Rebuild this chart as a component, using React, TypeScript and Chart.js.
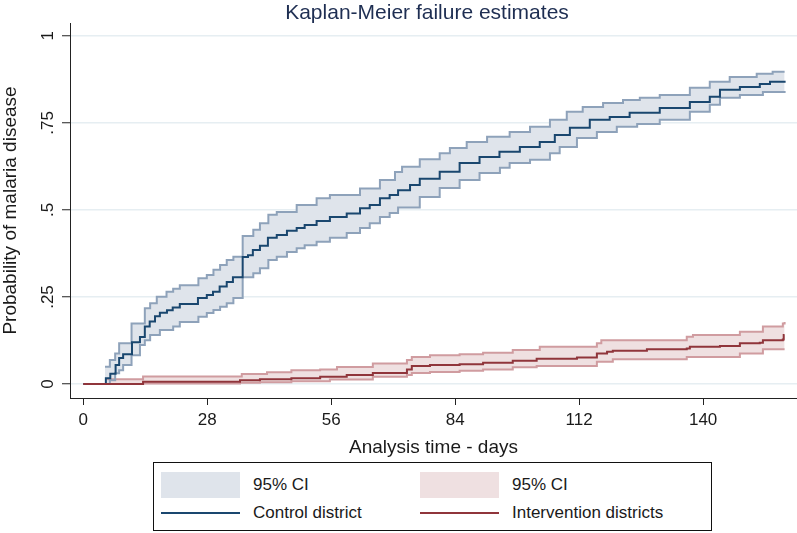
import React, { useEffect, useRef } from "react";
import { Chart, registerables } from "chart.js";

Chart.register(...registerables);

const chartTitle = "Kaplan-Meier failure estimates";
const xTitle = "Analysis time - days";
const yTitle = "Probability of malaria disease";

const xTicks = [0, 28, 56, 84, 112, 140];
const yTicks = [0, 0.25, 0.5, 0.75, 1];
const yTickLabels = ["0", ".25", ".5", ".75", "1"];

// Control district: Kaplan-Meier failure estimate
const controlDays = [0, 5.1, 6.1, 7.3, 8.1, 9.0, 11.0, 12.8, 13.9, 15.0, 16.2, 17.3, 18.9, 20.2, 21.8, 25.9, 27.9, 29.3, 30.8, 32.4, 33.8, 36.0, 37.2, 38.3, 39.9, 41.7, 43.7, 46.0, 48.2, 50.0, 52.7, 55.7, 59.5, 62.5, 64.7, 67.0, 69.2, 71.1, 73.8, 76.0, 80.5, 85.0, 89.5, 94.0, 98.6, 103.1, 106.5, 109.9, 114.4, 118.9, 123.4, 130.2, 137.0, 141.5, 143.8, 148.3, 152.8, 155.1, 158.4];
const controlEst = [0, 0.017, 0.030, 0.055, 0.075, 0.086, 0.120, 0.135, 0.165, 0.180, 0.195, 0.205, 0.212, 0.220, 0.230, 0.247, 0.256, 0.265, 0.280, 0.293, 0.307, 0.365, 0.370, 0.385, 0.397, 0.420, 0.428, 0.440, 0.448, 0.457, 0.468, 0.480, 0.490, 0.505, 0.514, 0.534, 0.543, 0.557, 0.572, 0.590, 0.610, 0.635, 0.652, 0.667, 0.681, 0.695, 0.715, 0.736, 0.759, 0.767, 0.779, 0.793, 0.810, 0.825, 0.845, 0.853, 0.862, 0.868, 0.871];

const controlUpperDays = [4.9, 6.0, 7.2, 8.1, 10.9, 13.9, 15.1, 16.6, 18.8, 20.3, 21.8, 26.0, 27.9, 29.4, 30.9, 32.4, 33.9, 36.0, 38.4, 39.9, 41.8, 43.7, 48.2, 52.7, 55.7, 62.5, 67.0, 70.4, 72.0, 76.0, 80.5, 82.8, 86.6, 91.2, 96.3, 100.9, 105.4, 109.2, 112.8, 117.4, 121.9, 125.7, 130.2, 137.0, 141.5, 146.0, 152.1, 155.7, 158.4];
const controlUpper = [0.050, 0.069, 0.088, 0.117, 0.174, 0.218, 0.232, 0.251, 0.265, 0.274, 0.284, 0.304, 0.313, 0.328, 0.342, 0.356, 0.366, 0.425, 0.443, 0.462, 0.486, 0.494, 0.514, 0.534, 0.543, 0.562, 0.586, 0.609, 0.624, 0.646, 0.663, 0.678, 0.695, 0.710, 0.724, 0.739, 0.759, 0.782, 0.796, 0.807, 0.816, 0.822, 0.830, 0.851, 0.868, 0.882, 0.891, 0.897, 0.897];

const controlLowerDays = [4.9, 6.0, 7.2, 8.1, 9.0, 10.9, 12.8, 13.9, 15.1, 17.3, 20.3, 21.8, 26.0, 27.9, 29.4, 30.9, 32.4, 33.9, 36.0, 38.4, 39.9, 41.8, 43.7, 46.0, 48.2, 50.0, 52.7, 55.7, 59.5, 62.5, 64.7, 67.0, 69.2, 71.1, 76.0, 80.5, 85.0, 89.5, 94.1, 96.3, 100.9, 105.4, 107.6, 111.5, 116.0, 120.5, 125.1, 130.2, 137.0, 141.5, 143.8, 148.3, 153.5, 158.4];
const controlLower = [0, 0.011, 0.031, 0.040, 0.055, 0.083, 0.112, 0.126, 0.141, 0.155, 0.165, 0.178, 0.193, 0.204, 0.213, 0.222, 0.232, 0.247, 0.307, 0.318, 0.333, 0.356, 0.366, 0.379, 0.390, 0.399, 0.409, 0.420, 0.434, 0.448, 0.462, 0.480, 0.491, 0.507, 0.537, 0.563, 0.586, 0.606, 0.621, 0.635, 0.644, 0.663, 0.681, 0.707, 0.724, 0.739, 0.747, 0.759, 0.782, 0.802, 0.822, 0.830, 0.839, 0.842];

// Intervention districts
const interDays = [0, 13.5, 35.4, 39.9, 47.0, 53.5, 59.5, 65.4, 73.1, 74.2, 78.3, 85.0, 90.3, 97.0, 102.4, 111.5, 116.0, 118.3, 119.6, 127.3, 136.3, 137.0, 143.8, 148.3, 152.8, 153.5, 158.0, 158.2, 158.4];
const interEst = [0, 0.007, 0.011, 0.014, 0.017, 0.021, 0.026, 0.032, 0.042, 0.052, 0.055, 0.057, 0.061, 0.067, 0.073, 0.076, 0.088, 0.093, 0.096, 0.100, 0.102, 0.107, 0.109, 0.117, 0.119, 0.126, 0.128, 0.141, 0.141];

const interUpperDays = [5.4, 13.5, 35.8, 41.5, 47.0, 53.5, 57.3, 65.4, 73.1, 74.2, 78.3, 85.0, 90.3, 97.0, 103.1, 116.0, 117.0, 136.3, 137.7, 148.3, 153.5, 158.0, 158.4];
const interUpper = [0.014, 0.022, 0.029, 0.034, 0.040, 0.042, 0.049, 0.059, 0.069, 0.078, 0.083, 0.086, 0.090, 0.098, 0.107, 0.117, 0.126, 0.136, 0.141, 0.150, 0.165, 0.174, 0.178];

const interLowerDays = [5.4, 13.5, 35.4, 39.9, 47.0, 55.7, 65.4, 73.1, 74.2, 78.3, 85.0, 90.3, 97.0, 102.4, 116.0, 119.6, 136.3, 148.3, 153.5, 158.4];
const interLower = [0, 0.002, 0.004, 0.005, 0.008, 0.013, 0.021, 0.026, 0.032, 0.035, 0.038, 0.042, 0.048, 0.052, 0.064, 0.071, 0.078, 0.088, 0.100, 0.100];

const legendCI = "95% CI";
const legendControl = "Control district";
const legendInter = "Intervention districts";

const FONT = '"Liberation Sans", Arial, Helvetica, sans-serif';
const BLUE_LINE = "#1a476f";
const BLUE_CI = "#8ea2ba";
const BLUE_FILL = "#dfe4eb";
const RED_LINE = "#90353b";
const RED_CI = "#d09ca0";
const RED_FILL = "#efe0e1";

const pts = (xs: number[], ys: number[]) => xs.map((x, i) => ({ x, y: ys[i] }));

const yLabelPlugin = {
  id: "yTickLabelsRotated",
  afterDraw(chart: any) {
    const s = chart.scales.y;
    const ctx = chart.ctx;
    ctx.save();
    ctx.fillStyle = "#1a1a1a";
    ctx.font = `17px ${FONT}`;
    ctx.textAlign = "center";
    ctx.textBaseline = "alphabetic";
    yTicks.forEach((v, i) => {
      const py = s.getPixelForValue(v);
      ctx.save();
      ctx.translate(s.right - 17, py);
      ctx.rotate(-Math.PI / 2);
      ctx.fillText(yTickLabels[i], 0, 0);
      ctx.restore();
    });
    ctx.restore();
  },
};

export default function App() {
  const ref = useRef<HTMLCanvasElement>(null);
  useEffect(() => {
    if (!ref.current) return;
    const lineBase = { pointRadius: 0, stepped: true as const, borderCapStyle: "butt" as const, tension: 0 };
    const chart = new Chart(ref.current, {
      type: "line",
      data: {
        datasets: [
          { ...lineBase, label: legendInter, data: pts(interDays, interEst), borderColor: RED_LINE, borderWidth: 2, fill: false },
          { ...lineBase, label: legendControl, data: pts(controlDays, controlEst), borderColor: BLUE_LINE, borderWidth: 2, fill: false },
          { ...lineBase, label: "ci-cu", data: pts(controlUpperDays, controlUpper), borderColor: BLUE_CI, borderWidth: 2, backgroundColor: BLUE_FILL, fill: "+1" },
          { ...lineBase, label: "ci-cl", data: pts(controlLowerDays, controlLower), borderColor: BLUE_CI, borderWidth: 2, fill: false },
          { ...lineBase, label: "ci-iu", data: pts(interUpperDays, interUpper), borderColor: RED_CI, borderWidth: 2, backgroundColor: RED_FILL, fill: "+1" },
          { ...lineBase, label: "ci-il", data: pts(interLowerDays, interLower), borderColor: RED_CI, borderWidth: 2, fill: false },
        ],
      },
      options: {
        animation: false,
        responsive: true,
        maintainAspectRatio: false,
        layout: { padding: { top: 23, left: 0, right: 0, bottom: 0 } },
        plugins: {
          legend: { display: false },
          tooltip: { enabled: false },
          filler: { drawTime: "beforeDatasetsDraw" } as any,
          title: { display: false },
        },
        scales: {
          x: {
            type: "linear",
            min: -3.0,
            max: 161.2,
            afterBuildTicks: (s: any) => { s.ticks = xTicks.map((v) => ({ value: v })); },
            afterFit: (s: any) => { s.height = 135; },
            grid: { drawOnChartArea: false, drawTicks: true, tickLength: 7, tickColor: "#222", tickWidth: 1 },
            border: { display: true, color: "#222", width: 1 },
            ticks: { color: "#1a1a1a", font: { family: FONT, size: 17 }, padding: 5, maxRotation: 0, autoSkip: false },
            title: { display: true, text: xTitle, color: "#1a1a1a", font: { family: FONT, size: 19, lineHeight: 1.2 }, padding: { top: 0, bottom: 74 } },
          },
          y: {
            type: "linear",
            min: -0.04,
            max: 1.037,
            afterBuildTicks: (s: any) => { s.ticks = yTicks.map((v) => ({ value: v })); },
            afterFit: (s: any) => { s.width = 70; },
            grid: { color: "#e6eef2", lineWidth: 1.5, drawTicks: true, tickLength: 8, tickColor: "#222", tickWidth: 1 },
            border: { display: true, color: "#222", width: 1 },
            ticks: { display: false },
            title: { display: true, text: yTitle, color: "#1a1a1a", font: { family: FONT, size: 19, lineHeight: 1.1 }, padding: 0 },
          },
        },
      },
      plugins: [yLabelPlugin],
    });
    return () => chart.destroy();
  }, []);

  const textStyle: React.CSSProperties = { position: "absolute", fontFamily: FONT, fontSize: 17, color: "#1a1a1a", lineHeight: "20px", whiteSpace: "nowrap" };
  return (
    <div style={{ position: "fixed", left: 0, top: 0, width: 797, height: 533, background: "#fff", overflow: "hidden" }}>
      <div style={{ position: "absolute", left: 0, top: 0, width: 797, height: 533 }}>
        <canvas ref={ref} />
      </div>
      <div style={{ position: "absolute", left: 70, top: 0, width: 714, height: 24, lineHeight: "24px", textAlign: "center", fontFamily: FONT, fontSize: 21, color: "#1e2e52", whiteSpace: "nowrap" }}>
        {chartTitle}
      </div>
      <div style={{ position: "absolute", left: 153, top: 462, width: 559, height: 69, border: "1px solid #111", boxSizing: "border-box", background: "#fff" }}>
        <div style={{ position: "absolute", left: 7, top: 9, width: 79, height: 26, background: BLUE_FILL }} />
        <div style={{ ...textStyle, left: 99, top: 12 }}>{legendCI}</div>
        <div style={{ position: "absolute", left: 266, top: 9, width: 79, height: 26, background: RED_FILL }} />
        <div style={{ ...textStyle, left: 358, top: 12 }}>{legendCI}</div>
        <div style={{ position: "absolute", left: 7, top: 49, width: 79, height: 2, background: BLUE_LINE }} />
        <div style={{ ...textStyle, left: 99, top: 40 }}>{legendControl}</div>
        <div style={{ position: "absolute", left: 266, top: 49, width: 79, height: 2, background: RED_LINE }} />
        <div style={{ ...textStyle, left: 358, top: 40 }}>{legendInter}</div>
      </div>
    </div>
  );
}
